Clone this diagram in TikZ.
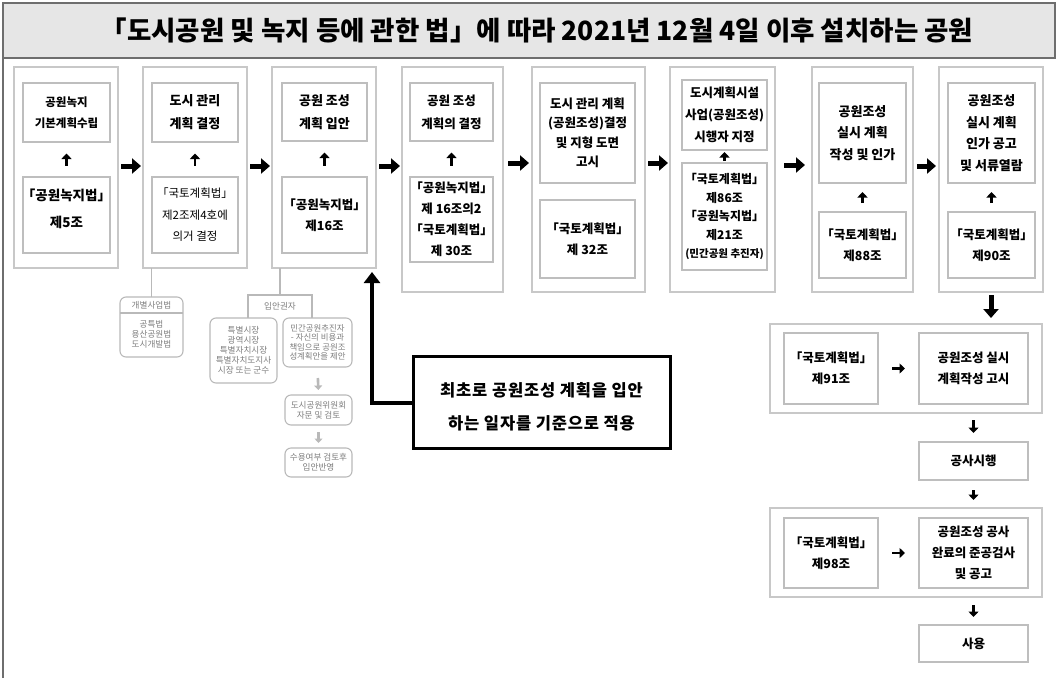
\documentclass[tikz,border=0pt]{standalone}
\usepackage{fontspec}
\setmainfont{Noto Sans CJK KR}
\usetikzlibrary{arrows.meta}
\definecolor{obc}{RGB}{200,200,200}
\definecolor{ibc}{RGB}{190,190,190}
\definecolor{gln}{RGB}{185,185,185}
\definecolor{gtx}{RGB}{125,125,125}
\definecolor{band}{RGB}{230,230,230}
\definecolor{frm}{RGB}{110,110,110}
\newcommand\fsz[2]{\fontsize{#1}{#2}\selectfont}
\newcommand\R[7]{%
 \pgfmathsetmacro\rbw{#5-#3}\pgfmathsetmacro\rbh{#6-#4}%
 \pgfmathsetmacro\rbx{(#3+#5)/2}\pgfmathsetmacro\rby{(#4+#6)/2}%
 \node[#2,minimum width=\rbw pt,minimum height=\rbh pt] (#1) at (\rbx,\rby) {#7};}
\begin{document}
\begin{tikzpicture}[x=1pt,y=-1pt,
 every node/.style={inner sep=0pt,outer sep=0pt,align=center},
 obox/.style={draw=obc,line width=2.4pt},
 ibox/.style={draw=ibc,line width=2pt,font=\bfseries\fsz{12.5}{21}},
 gbox/.style={draw=gln,line width=1.1pt,rounded corners=6pt,text=gtx,font=\fsz{8.6}{10}},
 gtext/.style={text=gtx,font=\fsz{8.6}{10}},
 gline/.style={draw=gln,line width=1.1pt},
 harr/.style={line width=5pt,-{Triangle[length=9pt,width=15pt]}},
 sarr/.style={line width=2.8pt,-{Triangle[length=5.5pt,width=10pt]}},
 garr/.style={draw=gln,line width=2.6pt,-{Triangle[length=4.5pt,width=8pt]}},
 larr/.style={line width=4pt,-{Triangle[length=11pt,width=16pt]}},
 callout/.style={draw=black,line width=3pt}]
\useasboundingbox (0,0) rectangle (1057,678);
% frame and title band
\fill[band] (3,3) rectangle (1055,58);
\draw[frm,line width=2pt] (3,678) -- (3,3) -- (1055,3) -- (1055,58) -- (3,58);
\node[font=\bfseries\fsz{26.5}{29}] (title) at (537,30) {「도시공원 및 녹지 등에 관한 법」에 따라 2021년 12월 4일 이후 설치하는 공원};
% columns
\R{c1}{obox}{14}{67}{118}{268}{}
\R{c2}{obox}{143}{67}{247}{268}{}
\R{c3}{obox}{272}{67}{376}{268}{}
\R{c4}{obox}{402}{67}{503}{292}{}
\R{c5}{obox}{532}{67}{645}{292}{}
\R{c6}{obox}{670}{67}{775}{292}{}
\R{c7}{obox}{812}{67}{913}{292}{}
\R{c8}{obox}{939}{67}{1043}{292}{}
% inner boxes
\R{c1t}{ibox,font=\bfseries\fsz{11.5}{21}}{23}{83}{110}{142}{공원녹지\\기본계획수립}
\R{c1b}{ibox}{23}{177}{110}{253}{}
\node[font=\bfseries\fsz{13.5}{27}] (c1bt) at ([yshift=6pt]c1b.center) {「공원녹지법」\\제5조};
\R{c2t}{ibox,font=\bfseries\fsz{13}{23}}{152}{83}{238}{142}{도시 관리\\계획 결정}
\R{c2b}{ibox,font=\fsz{11.5}{21.5}}{152}{177}{238}{253}{「국토계획법」\\제2조제4호에\\의거 결정}
\R{c3t}{ibox,font=\bfseries\fsz{13}{23}}{282}{83}{367}{141}{공원 조성\\계획 입안}
\R{c3b}{ibox}{282}{177}{367}{253}{「공원녹지법」\\제16조}
\R{c4t}{ibox,font=\bfseries\fsz{12.5}{23}}{410}{83}{493}{141}{공원 조성\\계획의 결정}
\R{c4b}{ibox}{410}{177}{493}{262}{「공원녹지법」\\제 16조의2\\「국토계획법」\\제 30조}
\R{c5t}{ibox,font=\bfseries\fsz{12.5}{19.5}}{540}{83}{635}{183}{도시 관리 계획\\(공원조성)결정\\및 지형 도면\\고시}
\R{c5b}{ibox}{540}{200}{635}{278}{「국토계획법」\\제 32조}
\R{c6t}{ibox,font=\bfseries\fsz{12.5}{22}}{682}{80}{767}{150}{도시계획시설\\사업(공원조성)\\시행자 지정}
\R{c6b}{ibox,font=\bfseries\fsz{12}{18.5}}{682}{163}{767}{270}{「국토계획법」\\제86조\\「공원녹지법」\\제21조\\{\fsz{10.5}{18.5}(민간공원 추진자)}}
\R{c7t}{ibox,font=\bfseries\fsz{13}{21.5}}{819}{83}{906}{183}{공원조성\\실시 계획\\작성 및 인가}
\R{c7b}{ibox}{819}{212}{906}{278}{「국토계획법」\\제88조}
\R{c8t}{ibox,font=\bfseries\fsz{13}{21.5}}{948}{83}{1035}{183}{공원조성\\실시 계획\\인가 공고\\및 서류열람}
\R{c8b}{ibox}{948}{212}{1035}{278}{「국토계획법」\\제90조}
% small up arrows
\draw[sarr,shorten <=11.5pt,shorten >=11.5pt] (c1b.north) -- (c1t.south);
\draw[sarr,shorten <=11.5pt,shorten >=11.5pt] (c2b.north) -- (c2t.south);
\draw[sarr,shorten <=11.5pt,shorten >=11.5pt] (c3b.north) -- (c3t.south);
\draw[sarr,shorten <=11.5pt,shorten >=11.5pt] (c4b.north) -- (c4t.south);
\draw[sarr,shorten <=2pt,shorten >=2pt] (c6b.north) -- (c6t.south);
\draw[sarr,shorten <=9pt,shorten >=9pt] (c7b.north) -- (c7t.south);
\draw[sarr,shorten <=9pt,shorten >=9pt] (c8b.north) -- (c8t.south);
% horizontal arrows
\draw[harr,shorten <=3pt,shorten >=2pt] (c1.east |- 0,166) -- (c2.west |- 0,166);
\draw[harr,shorten <=3pt,shorten >=2pt] (c2.east |- 0,166) -- (c3.west |- 0,166);
\draw[harr,shorten <=3pt,shorten >=2pt] (c3.east |- 0,166) -- (c4.west |- 0,166);
\draw[harr,shorten <=5pt,shorten >=3pt] (c4.east |- 0,163) -- (c5.west |- 0,163);
\draw[harr,shorten <=3pt,shorten >=2pt] (c5.east |- 0,163) -- (c6.west |- 0,163);
\draw[harr,shorten <=9pt,shorten >=7pt] (c6.east |- 0,165) -- (c7.west |- 0,165);
\draw[harr,shorten <=4pt,shorten >=3pt] (c7.east |- 0,166) -- (c8.west |- 0,166);
% lower-left gray notes
\R{gb1}{gbox}{120}{297}{183}{357}{}
\draw[gline] (gb1.west |- 0,313) -- (gb1.east |- 0,313);
\node[gtext] (gb1h) at (151.5,305) {개별사업법};
\node[gtext] (gb1t) at (151.5,334) {공특법\\용산공원법\\도시개발법};
\draw[gline] (gb1.north |- c2.south) -- (gb1.north);
\coordinate (ip) at (280,295);
\draw[gline] (ip |- c3.south) -- (ip);
\draw[gline] (248,318) -- (248,295) -- (312,295) -- (312,318);
\node[gtext] (iph) at (280,306) {입안권자};
\R{gb2}{gbox}{210}{318}{277}{383}{특별시장\\광역시장\\특별자치시장\\특별자치도지사\\시장 또는 군수}
\R{gb3}{gbox,font=\fsz{8.4}{9.4}}{283}{318}{352}{367}{민간공원추진자\\- 자신의 비용과\\책임으로 공원조\\성계획안을 제안}
\R{gb4}{gbox}{285}{395}{352}{425}{도시공원위원회\\자문 및 검토}
\R{gb5}{gbox}{285}{448}{352}{477}{수용여부 검토후\\입안반영}
\draw[garr,shorten <=11pt,shorten >=5pt] (gb3.south) -- (gb4.north);
\draw[garr,shorten <=7pt,shorten >=5pt] (gb4.south) -- (gb5.north);
% callout
\R{co}{callout}{413}{356}{670}{448}{}
\node[font=\bfseries\fsz{16.5}{33}\addfontfeature{LetterSpace=5}] (cot) at ([yshift=-4.5pt]co.center) {최초로 공원조성 계획을 입안\\하는 일자를 기준으로 적용};
\coordinate (lt) at (372,272);
\draw[larr] (co.west |- 0,403) -| (lt);
% right lower chain
\R{g1}{obox}{770}{324}{1042}{413}{}
\R{g1l}{ibox}{784}{333}{878}{404}{「국토계획법」\\제91조}
\R{g1r}{ibox}{919}{333}{1028}{404}{공원조성 실시\\계획작성 고시}
\R{ps}{ibox}{919}{442}{1028}{480}{공사시행}
\R{g2}{obox}{770}{508}{1042}{597}{}
\R{g2l}{ibox}{784}{518}{878}{588}{「국토계획법」\\제98조}
\R{g2r}{ibox}{919}{518}{1028}{588}{공원조성 공사\\완료의 준공검사\\및 공고}
\R{use}{ibox}{919}{625}{1028}{662}{사용}
\draw[harr,shorten <=3pt,shorten >=6pt] (c8.south) -- (c8.south |- g1.north);
\draw[sarr,shorten <=14pt,shorten >=14pt] (g1l.east) -- (g1r.west);
\draw[sarr,shorten <=14pt,shorten >=14pt] (g2l.east) -- (g2r.west);
\draw[sarr,shorten <=7pt,shorten >=9pt] (g1r.south |- g1.south) -- (ps.north);
\draw[sarr,shorten <=10pt,shorten >=8pt] (ps.south) -- (ps.south |- g2.north);
\draw[sarr,shorten <=8pt,shorten >=8pt] (g2r.south |- g2.south) -- (use.north);
\end{tikzpicture}
\end{document}
